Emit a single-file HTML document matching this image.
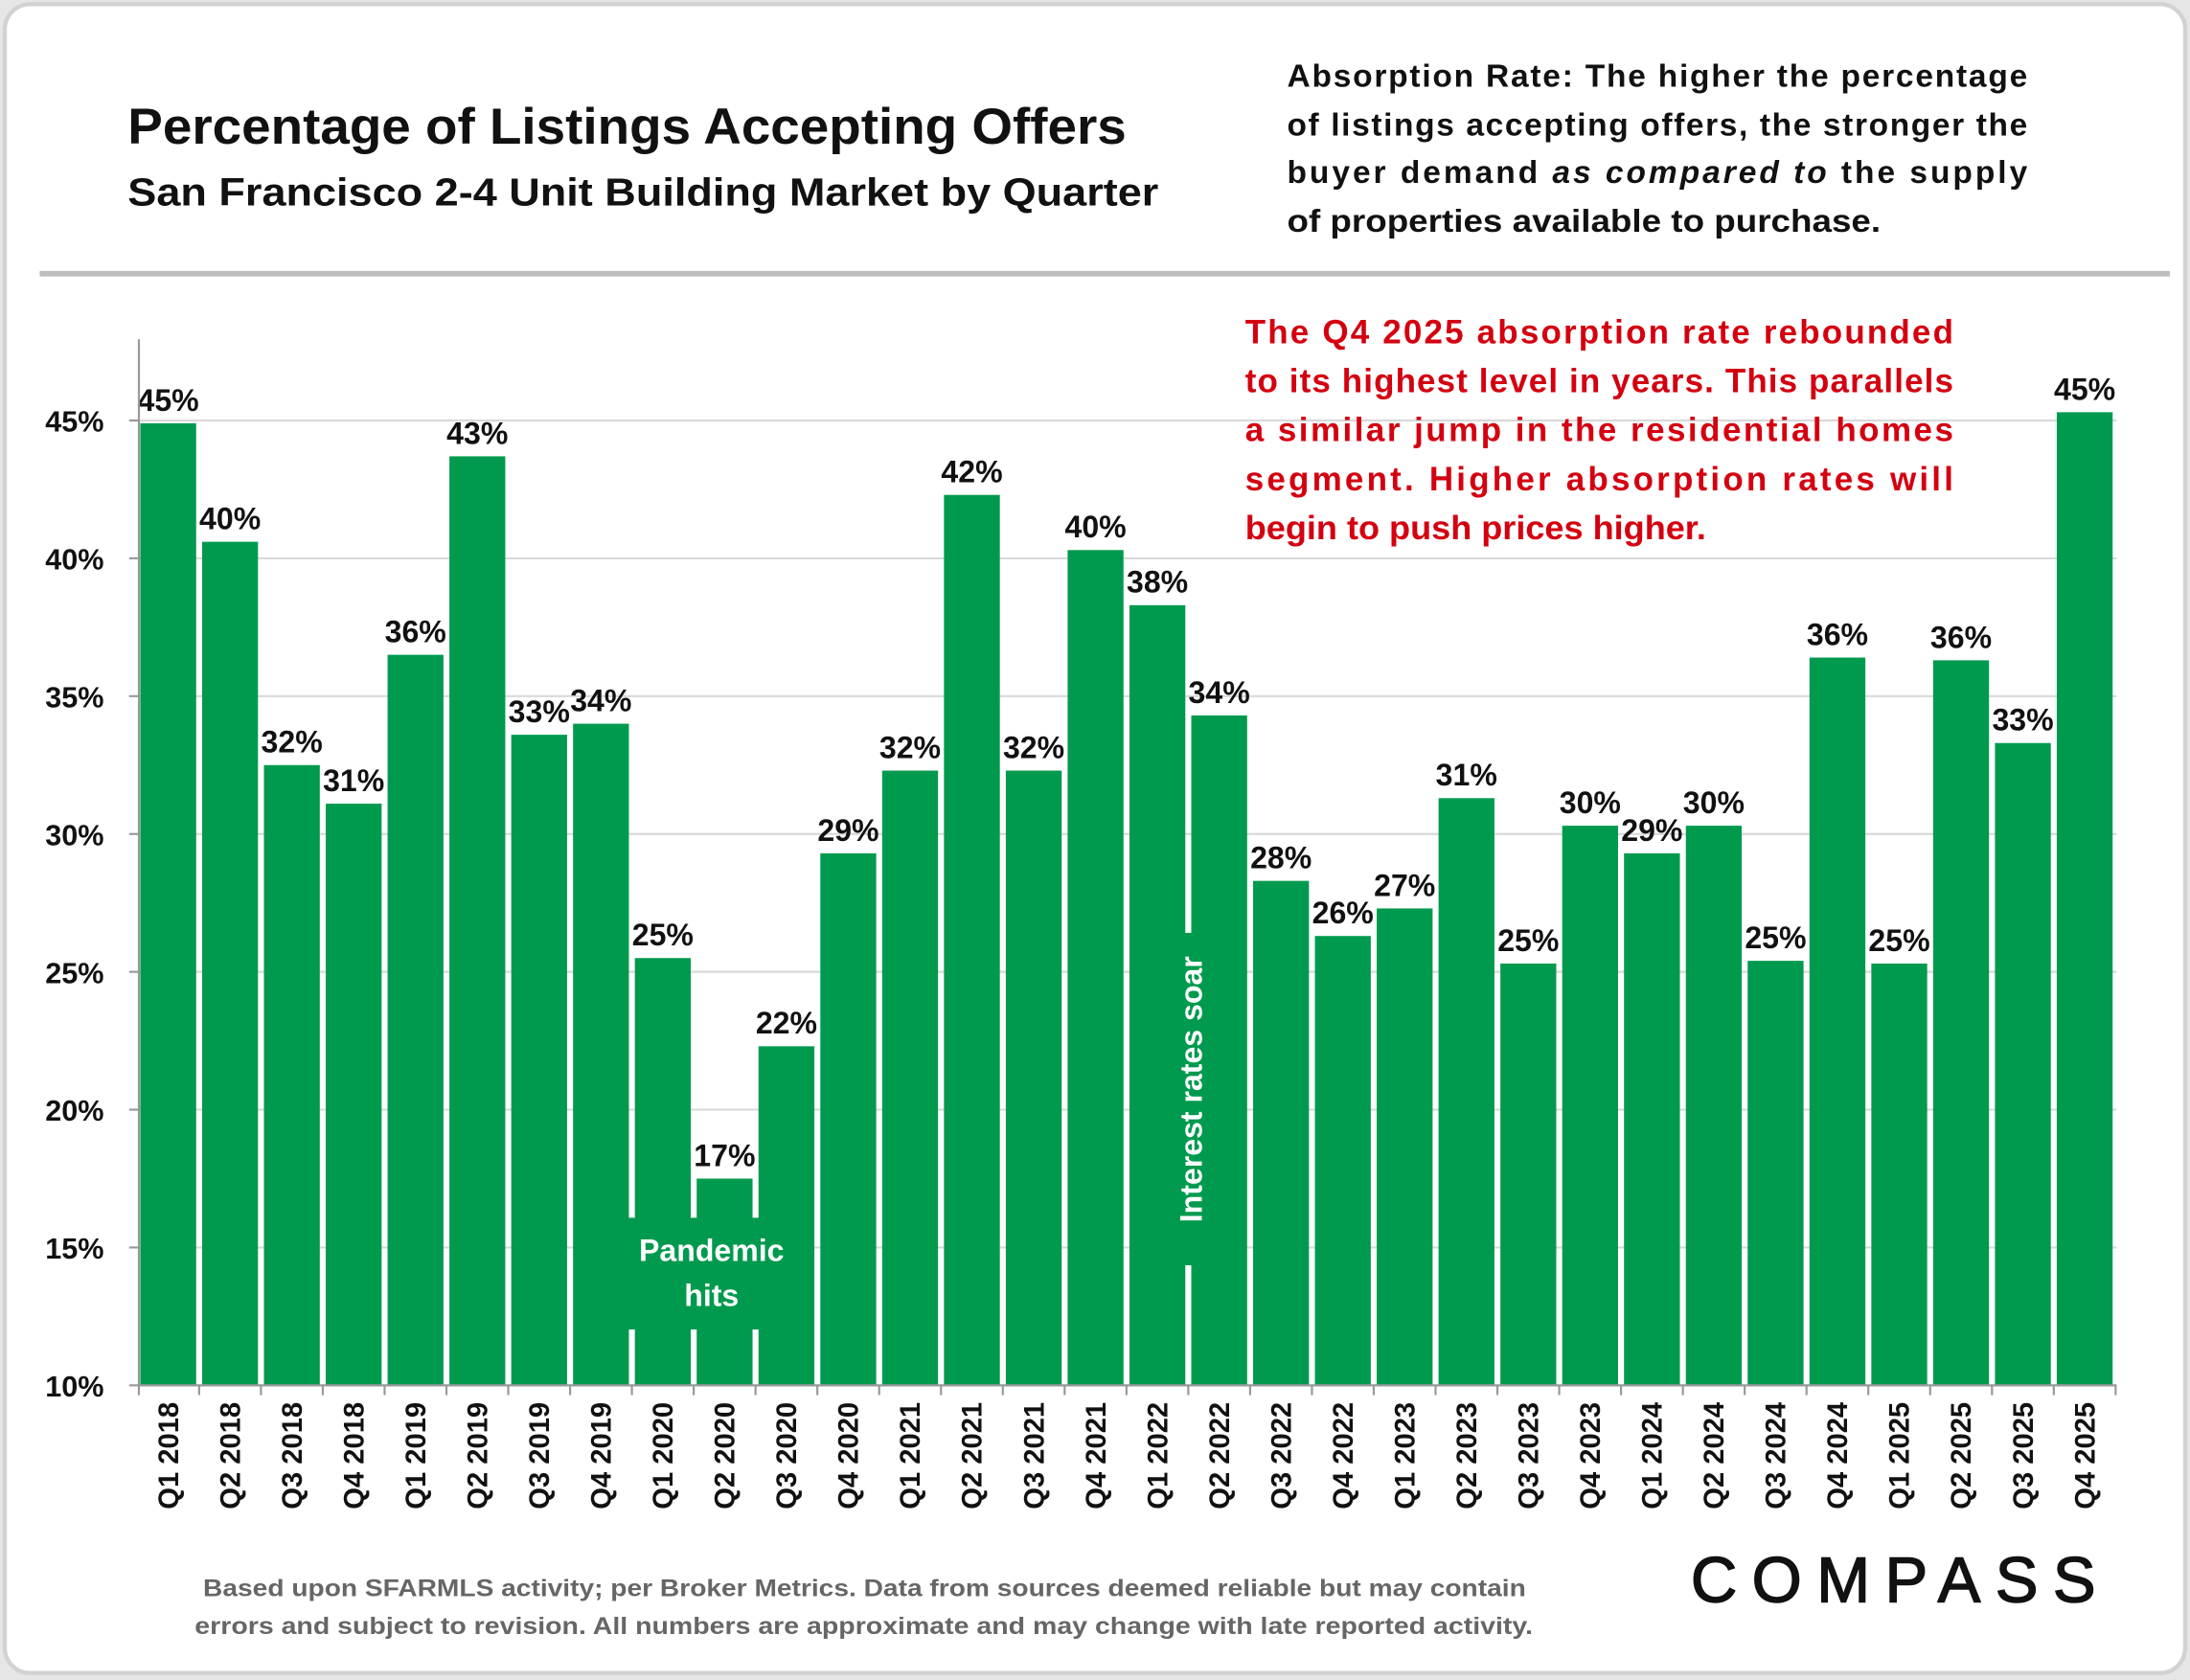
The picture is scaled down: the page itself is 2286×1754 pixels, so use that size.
<!DOCTYPE html>
<html><head><meta charset="utf-8"><style>
html,body{margin:0;padding:0;background:#e6e6e6;}
svg{display:block;}
text{font-family:"Liberation Sans",sans-serif;}
</style></head><body>
<svg width="2286" height="1754" viewBox="0 0 1567 1203" xmlns="http://www.w3.org/2000/svg">
<rect x="3" y="3" width="1561" height="1195" rx="18" fill="#fff" stroke="#d2d2d2" stroke-width="3"/>
<text x="91" y="103" font-size="36" font-weight="bold" fill="#111" textLength="715" lengthAdjust="spacingAndGlyphs">Percentage of Listings Accepting Offers</text>
<text x="91" y="147" font-size="28" font-weight="bold" fill="#111" textLength="738" lengthAdjust="spacingAndGlyphs">San Francisco 2-4 Unit Building Market by Quarter</text>
<g font-size="23" font-weight="bold" fill="#111">
<text x="921" y="62" textLength="530" lengthAdjust="spacing">Absorption Rate: The higher the percentage</text>
<text x="921" y="97" textLength="530" lengthAdjust="spacing">of listings accepting offers, the stronger the</text>
<text x="921" y="131" textLength="530" lengthAdjust="spacing">buyer demand <tspan font-style="italic">as compared to</tspan> the supply</text>
<text x="921" y="166" textLength="425" lengthAdjust="spacingAndGlyphs">of properties available to purchase.</text>
</g>
<rect x="28" y="194" width="1525" height="4" fill="#bdbdbd"/>
<g id="grid"></g>
<g id="bars"></g>
<g id="labels"></g>
<g id="axes"></g>
<g font-size="24" font-weight="bold" fill="#d40010">
<text x="891" y="246" textLength="507" lengthAdjust="spacing">The Q4 2025 absorption rate rebounded</text>
<text x="891" y="281" textLength="507" lengthAdjust="spacing">to its highest level in years. This parallels</text>
<text x="891" y="316" textLength="507" lengthAdjust="spacing">a similar jump in the residential homes</text>
<text x="891" y="351" textLength="507" lengthAdjust="spacing">segment. Higher absorption rates will</text>
<text x="891" y="386" textLength="330" lengthAdjust="spacingAndGlyphs">begin to push prices higher.</text>
</g>
<g>
<rect x="447" y="872" width="124" height="80" fill="#009a4e"/>
<text x="509" y="903" font-size="22" font-weight="bold" fill="#fff" text-anchor="middle">Pandemic</text>
<text x="509" y="935" font-size="22" font-weight="bold" fill="#fff" text-anchor="middle">hits</text>
</g>
<g>
<rect x="836" y="668" width="32" height="238" fill="#009a4e"/>
<text transform="translate(860,780) rotate(-90)" font-size="22" font-weight="bold" fill="#fff" text-anchor="middle">Interest rates soar</text>
</g>
<text x="145" y="1143" font-size="17" font-weight="bold" fill="#666" textLength="947" lengthAdjust="spacingAndGlyphs">Based upon SFARMLS activity; per Broker Metrics. Data from sources deemed reliable but may contain</text>
<text x="139" y="1170" font-size="17" font-weight="bold" fill="#666" textLength="958" lengthAdjust="spacingAndGlyphs">errors and subject to revision. All numbers are approximate and may change with late reported activity.</text>
<text x="1210" y="1147" font-size="46" fill="#111" textLength="290" lengthAdjust="spacing" stroke="#111" stroke-width="1">COMPASS</text>
<script>
const categories=["Q1 2018","Q2 2018","Q3 2018","Q4 2018","Q1 2019","Q2 2019","Q3 2019","Q4 2019","Q1 2020","Q2 2020","Q3 2020","Q4 2020","Q1 2021","Q2 2021","Q3 2021","Q4 2021","Q1 2022","Q2 2022","Q3 2022","Q4 2022","Q1 2023","Q2 2023","Q3 2023","Q4 2023","Q1 2024","Q2 2024","Q3 2024","Q4 2024","Q1 2025","Q2 2025","Q3 2025","Q4 2025"];
const values=[44.9,40.6,32.5,31.1,36.5,43.7,33.6,34.0,25.5,17.5,22.3,29.3,32.3,42.3,32.3,40.3,38.3,34.3,28.3,26.3,27.3,31.3,25.3,30.3,29.3,30.3,25.4,36.4,25.3,36.3,33.3,45.3];
const valueLabels=["45%","40%","32%","31%","36%","43%","33%","34%","25%","17%","22%","29%","32%","42%","32%","40%","38%","34%","28%","26%","27%","31%","25%","30%","29%","30%","25%","36%","25%","36%","33%","45%"];
const yTicks=[10,15,20,25,30,35,40,45];
const NS="http://www.w3.org/2000/svg";
const y0=992,pxPer=98.7/5,x0=120,step=44.26,bw=40;
const yS=v=>y0-(v-10)*pxPer;
const xS=i=>x0+i*step;
function mk(tag,attrs,parent){const e=document.createElementNS(NS,tag);for(const k in attrs)e.setAttribute(k,attrs[k]);parent.appendChild(e);return e;}
const grid=document.getElementById('grid'),bars=document.getElementById('bars'),labels=document.getElementById('labels'),axes=document.getElementById('axes');
yTicks.forEach(t=>{
 const y=yS(t);
 if(t>10){const l=mk('line',{x1:99,x2:1515,y1:y,y2:y,stroke:'#d9d9d9','stroke-width':1.5},grid);
 
 }
 const tk=mk('line',{x1:92,x2:99,y1:y,y2:y,stroke:'#999','stroke-width':1.5},axes);
 
 
 const tx=mk('text',{x:74,y:y+8,'font-size':21,'font-weight':'bold','text-anchor':'end',fill:'#111'},axes);
 tx.textContent=t+'%';
 
 
});
values.forEach((v,i)=>{
 const cx=xS(i),top=yS(v);
 const r=mk('rect',{x:cx-bw/2,y:top,width:bw,height:y0-top,fill:'#009a4e'},bars);
 
 
 const t=mk('text',{x:cx,y:top-9,'font-size':22,'font-weight':'bold','text-anchor':'middle',fill:'#111'},labels);
 t.textContent=valueLabels[i];
 
 
 const c=mk('text',{transform:`translate(${cx+7},1004) rotate(-90)`,'font-size':20,'font-weight':'bold','text-anchor':'end',fill:'#111'},axes);
 c.textContent=categories[i];
 
 
 const tk=mk('line',{x1:cx+step/2,x2:cx+step/2,y1:y0,y2:y0+7,stroke:'#999','stroke-width':1.5},axes);
 
 
});
const ya=mk('line',{x1:99,x2:99,y1:243,y2:y0,stroke:'#999','stroke-width':1.5},axes);


const xa=mk('line',{x1:99,x2:1515,y1:y0,y2:y0,stroke:'#999','stroke-width':1.5},axes);


const ft=mk('line',{x1:99,x2:99,y1:y0,y2:y0+7,stroke:'#999','stroke-width':1.5},axes);


</script>
</svg>
</body></html>
